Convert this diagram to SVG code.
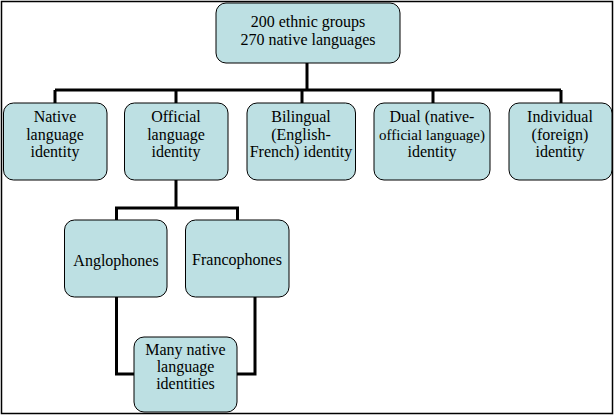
<svg xmlns="http://www.w3.org/2000/svg" width="615" height="417" viewBox="0 0 615 417">
<style>
.node rect{fill:#BDE0E3;stroke:#000;stroke-width:1}
.node text{font-family:"Liberation Serif","Times New Roman",serif;font-size:16px;fill:#000;text-anchor:middle}
#connectors path{fill:none;stroke:#000;stroke-width:3}
</style>
<rect x="1.5" y="1.5" width="611" height="412" fill="#fff" stroke="#000" stroke-width="1.5"/>
<g id="connectors">
<path d="M307,63V90"/>
<path d="M55,90H561"/>
<path d="M55,90V103M176,90V103M302,90V103M433,90V103M561,90V103"/>
<path d="M176,180V208"/>
<path d="M116.5,220V208H237.5V220"/>
<path d="M116.5,297V374H134"/>
<path d="M255,297V374H237"/>
</g>
<g id="root" class="node">
<rect x="216" y="3" width="184" height="60" rx="10"/>
<text x="308" y="27">200 ethnic groups</text>
<text x="308" y="45">270 native languages</text>
</g>
<g id="native" class="node">
<rect x="3.5" y="103" width="103.5" height="77" rx="10"/>
<text x="55" y="122">Native</text>
<text x="55" y="140">language</text>
<text x="55" y="157">identity</text>
</g>
<g id="official" class="node">
<rect x="124.5" y="103" width="103.5" height="77" rx="10"/>
<text x="176" y="122">Official</text>
<text x="176" y="140">language</text>
<text x="176" y="157">identity</text>
</g>
<g id="bilingual" class="node">
<rect x="247" y="103" width="108.5" height="77" rx="10"/>
<text x="301" y="122">Bilingual</text>
<text x="301" y="140">(English-</text>
<text x="301" y="157">French) identity</text>
</g>
<g id="dual" class="node">
<rect x="374" y="103" width="116" height="77" rx="10"/>
<text x="432" y="122">Dual (native-</text>
<text x="432" y="140" style="font-size:15px">official language)</text>
<text x="432" y="157">identity</text>
</g>
<g id="individual" class="node">
<rect x="509" y="103" width="103" height="77" rx="10"/>
<text x="560" y="122">Individual</text>
<text x="560" y="140">(foreign)</text>
<text x="560" y="157">identity</text>
</g>
<g id="anglophones" class="node">
<rect x="64.5" y="220" width="102.5" height="77" rx="10"/>
<text x="116" y="266">Anglophones</text>
</g>
<g id="francophones" class="node">
<rect x="185.5" y="220" width="103.5" height="77" rx="10"/>
<text x="237" y="265">Francophones</text>
</g>
<g id="many" class="node">
<rect x="134" y="337" width="103" height="75" rx="10"/>
<text x="185.5" y="355">Many native</text>
<text x="185.5" y="372">language</text>
<text x="185.5" y="389">identities</text>
</g>
</svg>
